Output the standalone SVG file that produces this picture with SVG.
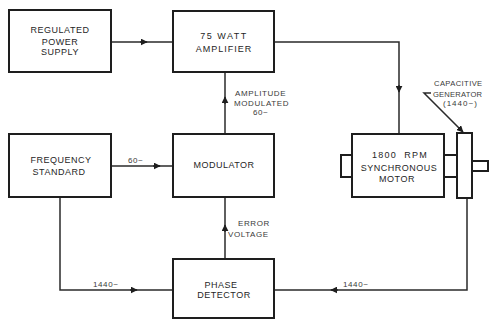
<svg xmlns="http://www.w3.org/2000/svg" width="490" height="320" viewBox="0 0 490 320">
<style>
.box{fill:#fff;stroke:#1e1e1e;stroke-width:2}
.wire{fill:none;stroke:#2a2a2a;stroke-width:1.5}
.t{font-family:"Liberation Sans","DejaVu Sans",sans-serif;font-size:9px;fill:#262626;text-anchor:middle;letter-spacing:0.5px}
.s{font-family:"Liberation Sans","DejaVu Sans",sans-serif;font-size:8px;fill:#3a3a3a;letter-spacing:0.6px}
</style>
<defs>
<marker id="ah" viewBox="0 0 10 10" refX="9" refY="5" markerWidth="7" markerHeight="7" markerUnits="userSpaceOnUse" orient="auto">
<path d="M0,0 L10,5 L0,10 Z" fill="#1e1e1e"/>
</marker>
</defs>
<rect width="490" height="320" fill="#fff"/>
<g id="connectors">
<path class="wire" d="M111,42 H173"/>
<path class="wire" d="M140,42 H147" marker-end="url(#ah)"/>
<path class="wire" d="M274,42 H399 V134"/>
<path class="wire" d="M399,85 V92" marker-end="url(#ah)"/>
<path class="wire" d="M111,166 H173"/>
<path class="wire" d="M153,166 H160" marker-end="url(#ah)"/>
<path class="wire" d="M225,134 V72"/>
<path class="wire" d="M225,104 V97" marker-end="url(#ah)"/>
<path class="wire" d="M225,259 V197"/>
<path class="wire" d="M225,232 V225" marker-end="url(#ah)"/>
<path class="wire" d="M60,197 V290 H173"/>
<path class="wire" d="M130,290 H137" marker-end="url(#ah)"/>
<path class="wire" d="M467,198 V290 H274"/>
<path class="wire" d="M338,290 H331" marker-end="url(#ah)"/>
<path class="wire" d="M431,93 H424 L463,132" marker-end="url(#ah)"/>
</g>
<g id="regulated-power-supply">
<rect class="box" x="9" y="10" width="102" height="62"/>
<text class="t" x="60" y="33">REGULATED</text>
<text class="t" x="60" y="45">POWER</text>
<text class="t" x="60" y="55">SUPPLY</text>
</g>
<g id="amplifier">
<rect class="box" x="173" y="11" width="101" height="61"/>
<text class="t" x="224" y="39" style="letter-spacing:1.5px">75 WATT</text>
<text class="t" x="224" y="52" style="letter-spacing:1px">AMPLIFIER</text>
</g>
<g id="frequency-standard">
<rect class="box" x="9" y="134" width="102" height="63"/>
<text class="t" x="61" y="163">FREQUENCY</text>
<text class="t" x="59" y="175">STANDARD</text>
</g>
<g id="modulator">
<rect class="box" x="173" y="134" width="101" height="63"/>
<text class="t" x="224" y="168">MODULATOR</text>
</g>
<g id="phase-detector">
<rect class="box" x="173" y="259" width="101" height="59"/>
<text class="t" x="221" y="288">PHASE</text>
<text class="t" x="224" y="298">DETECTOR</text>
</g>
<g id="motor">
<rect class="box" x="341" y="155" width="11" height="22"/>
<rect class="box" x="352" y="134" width="92" height="63"/>
<rect class="box" x="444" y="155" width="13" height="22"/>
<rect class="box" x="472" y="161" width="16" height="10"/>
<rect class="box" x="457" y="133" width="15" height="65"/>
<text class="t" x="400" y="158" style="letter-spacing:1.2px" xml:space="preserve">1800  RPM</text>
<text class="t" x="399" y="171">SYNCHRONOUS</text>
<text class="t" x="397" y="182">MOTOR</text>
</g>
<g id="labels">
<text class="s" x="235" y="96">AMPLITUDE</text>
<text class="s" x="234" y="106">MODULATED</text>
<text class="s" x="253" y="115">60~</text>
<text class="s" x="238" y="226">ERROR</text>
<text class="s" x="228" y="237">VOLTAGE</text>
<text class="s" x="128" y="163">60~</text>
<text class="s" x="93" y="287">1440~</text>
<text class="s" x="343" y="287">1440~</text>
<text class="s" x="434" y="86" style="font-size:7.6px;letter-spacing:0.4px">CAPACITIVE</text>
<text class="s" x="433" y="97" style="font-size:7.6px;letter-spacing:0.2px">GENERATOR</text>
<text class="s" x="443" y="106" style="letter-spacing:1px">(1440~)</text>
</g>
</svg>
